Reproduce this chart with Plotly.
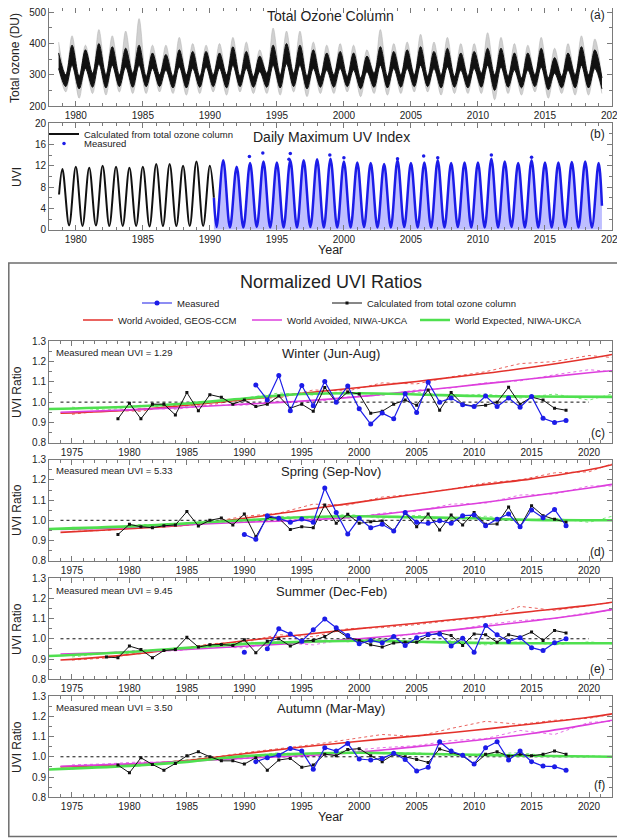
import plotly.graph_objects as go

FONT = "Liberation Sans, Arial, sans-serif"
# the page adds an 8 px body margin, so the figure is 8 px smaller and every
# reference pixel position is shifted by that offset
PAGE_OFF = 8
W, H = 625 - PAGE_OFF, 838 - PAGE_OFF

# ---------------- panel (a): total ozone column, seasonal extremes
oz_peak_years = list(range(1978, 2019))        # spring maximum (~Sep/Oct)
oz_peak_max = [405, 425, 395, 445, 425, 440, 480, 395, 395, 420, 400, 395, 400, 420, 405, 380, 450, 440, 440, 405, 395,
               400, 395, 380, 445, 400, 405, 430, 405, 420, 400, 400, 435, 420, 400, 395, 420, 385, 400, 425, 415]
oz_peak_core = [370, 395, 380, 400, 390, 385, 395, 370, 365, 380, 375, 375, 370, 390, 375, 360, 395, 400, 395, 380, 370,
                375, 370, 360, 390, 375, 380, 390, 375, 385, 370, 375, 385, 385, 370, 370, 385, 355, 370, 390, 380]
oz_peak_low = [320, 330, 320, 335, 330, 325, 330, 320, 315, 325, 320, 325, 320, 330, 320, 310, 330, 335, 330, 320, 315,
               320, 315, 310, 330, 320, 320, 330, 320, 325, 315, 320, 330, 325, 315, 315, 325, 305, 315, 330, 320]
oz_trough_years = list(range(1979, 2020))      # autumn minimum (~Mar/Apr)
oz_trough_top = [300, 295, 305, 300, 300, 305, 295, 300, 295, 300, 295, 300, 300, 295, 295, 305, 300, 305, 295, 295, 300,
                 295, 290, 305, 295, 300, 300, 295, 300, 295, 295, 305, 300, 295, 290, 300, 290, 295, 300, 300, 290]
oz_trough_core = [262, 255, 260, 258, 262, 260, 262, 262, 258, 258, 260, 262, 258, 262, 260, 260, 258, 262, 255, 260, 260,
                  262, 255, 260, 258, 260, 262, 262, 258, 260, 258, 260, 250, 260, 258, 262, 252, 258, 258, 258, 255]
oz_trough_min = [245, 225, 240, 235, 245, 240, 240, 245, 240, 235, 240, 245, 235, 245, 240, 240, 235, 245, 230, 240, 240,
                 245, 230, 240, 235, 240, 245, 245, 235, 240, 240, 240, 220, 240, 235, 245, 225, 240, 235, 235, 240]
OZ_PEAK_PHASE, OZ_TROUGH_PHASE = 0.72, 0.25

# ---------------- panel (b): daily maximum UVI, seasonal extremes
uvi_calc_peak_years = list(range(1979, 1991))   # January maximum
uvi_calc_peak = [11.4, 11.8, 11.6, 12.0, 11.8, 11.6, 11.8, 12.3, 12.3, 12.0, 12.8, 12.0]
uvi_calc_trough_years = list(range(1979, 1990))  # June minimum
uvi_calc_trough = [0.8, 0.7, 0.8, 0.7, 0.7, 0.7, 0.6, 0.7, 0.7, 0.7, 0.7]
uvi_calc_ends_t = [1978.75, 1990.3]
uvi_calc_ends_v = [6.6, 6.0]
uvi_meas_peak_years = list(range(1991, 2020))
uvi_meas_peak = [13.0, 11.8, 12.5, 12.8, 12.6, 13.0, 13.0, 13.2, 13.3, 12.8, 12.6, 12.5, 12.3, 13.0, 12.5,
                 12.6, 13.0, 12.5, 12.6, 12.6, 13.3, 12.8, 12.5, 13.0, 12.6, 12.6, 12.7, 12.8, 12.5]
uvi_meas_trough_years = list(range(1990, 2019))
uvi_meas_trough = [0.5, 0.4, 0.4, 0.5, 0.4, 0.4, 0.4, 0.5, 0.4, 0.4, 0.4, 0.5, 0.4, 0.4, 0.5,
                   0.4, 0.4, 0.4, 0.5, 0.4, 0.4, 0.4, 0.5, 0.4, 0.4, 0.4, 0.5, 0.4, 0.4]
uvi_meas_ends_t = [1990.3, 2019.25]
uvi_meas_ends_v = [6.0, 4.5]
uvi_spike_t = [1992.95, 1993.95, 1995.9, 1996.0, 1998.95, 2000.0, 2004.0, 2005.95, 2007.0, 2011.0, 2014.0]
uvi_spike_v = [13.7, 14.4, 13.2, 14.3, 14.0, 13.5, 13.3, 13.8, 13.5, 14.0, 13.6]

# ---------------- panels (c)-(f): normalized seasonal UVI ratios
seasons = ["Winter (Jun-Aug)", "Spring (Sep-Nov)", "Summer (Dec-Feb)", "Autumn (Mar-May)"]
mean_uvi = ["1.29", "5.33", "9.45", "3.50"]
panel_tags = ["(c)", "(d)", "(e)", "(f)"]

calc_years_winter = list(range(1979, 2019))
calc_winter = [0.918, 0.995, 0.918, 0.99, 0.99, 0.937, 1.047, 0.957, 1.037, 1.024, 0.99, 1.011, 0.978, 0.99, 1.03,
               0.97, 0.99, 0.955, 1.072, 1.0, 1.05, 1.04, 0.945, 0.955, 0.99, 1.01, 0.985, 1.06, 0.96, 1.048,
               0.99, 0.98, 0.985, 1.0, 1.073, 0.99, 1.025, 1.01, 0.97, 0.96]
meas_years_winter = list(range(1991, 2019))
meas_winter = [1.085, 1.011, 1.131, 0.957, 1.082, 0.982, 1.102, 1.0, 1.08, 0.967, 0.892, 0.946, 0.918, 1.041,
               0.949, 1.098, 1.0, 1.02, 0.987, 0.978, 1.03, 0.978, 1.02, 0.975, 1.028, 0.92, 0.9, 0.91]

calc_years_spring = list(range(1979, 2019))
calc_spring = [0.93, 0.98, 0.968, 0.963, 0.973, 0.977, 1.043, 0.972, 1.0, 1.011, 0.977, 1.031, 0.919, 1.015, 1.01,
               0.955, 0.968, 0.963, 1.076, 0.985, 1.03, 0.985, 0.993, 0.996, 0.949, 1.035, 0.968, 1.031, 0.952,
               1.026, 0.977, 1.039, 0.98, 0.982, 1.066, 0.968, 1.072, 1.023, 1.005, 0.99]
meas_years_spring = list(range(1990, 2019))
meas_spring = [0.93, 0.906, 1.023, 1.01, 0.99, 1.006, 0.99, 1.16, 1.039, 0.932, 1.01, 0.963, 0.98, 0.947, 1.038,
               0.99, 0.985, 0.998, 0.985, 1.023, 1.026, 0.973, 1.005, 1.031, 0.968, 1.051, 1.013, 1.054, 0.973]

calc_years_summer = list(range(1978, 2019))
calc_summer = [0.91, 0.906, 0.964, 0.947, 0.906, 0.942, 0.947, 1.008, 0.959, 0.97, 0.972, 0.967, 0.995, 0.931,
               0.988, 1.0, 0.964, 0.988, 0.992, 1.011, 1.044, 1.008, 0.992, 0.97, 0.959, 0.979, 0.983, 0.983,
               1.016, 1.029, 1.016, 0.967, 1.024, 1.02, 0.983, 1.02, 1.008, 1.033, 0.992, 1.041, 1.029]
meas_years_summer = list(range(1990, 2019))
meas_summer = [0.934, None, 0.951, 1.049, 1.024, 0.988, 1.044, 1.098, 1.054, 1.016, 0.975, 0.992, 0.98, 1.011,
               0.967, 1.005, 1.021, 1.024, 0.964, 1.003, 0.934, 1.066, 1.02, 0.987, 1.005, 0.956, 0.942, 0.98, 1.0]

calc_years_autumn = list(range(1979, 2019))
calc_autumn = [0.959, 0.921, 0.995, 0.962, 0.934, 0.967, 1.005, 1.025, 1.0, 0.98, 0.98, 0.964, 0.995, 0.934,
               0.984, 0.992, 0.948, 0.959, 1.013, 1.005, 1.036, 1.04, 1.005, 0.976, 1.012, 1.0, 0.987, 0.972,
               1.038, 1.022, 1.005, 0.962, 1.012, 1.025, 1.003, 1.012, 1.005, 1.012, 1.028, 1.013]
meas_years_autumn = list(range(1991, 2019))
meas_autumn = [0.976, 0.995, 1.008, 1.041, 1.028, 0.938, 1.045, 1.028, 1.066, 0.989, 0.984, 0.992, 1.017, 0.987,
               0.93, 0.948, 1.074, 1.028, 1.008, 0.964, 1.045, 1.074, 0.984, 1.028, 0.976, 0.954, 0.951, 0.934]

# model projections: smoothed (solid) and annual (dotted)
mdl_years = [1974, 1980, 1985, 1990, 1995, 2000, 2005, 2010, 2015, 2020, 2022]
grn_years = [1973, 1980, 1985, 1990, 1995, 2000, 2005, 2010, 2015, 2022]
dot_years = [1975, 1978, 1981, 1984, 1987, 1990, 1993, 1996, 1999, 2002, 2005, 2008, 2011, 2014, 2017, 2020, 2022]

geos_winter = [0.945, 0.96, 0.985, 1.012, 1.043, 1.072, 1.102, 1.135, 1.172, 1.215, 1.235]
niwa_av_winter = [0.95, 0.962, 0.975, 0.99, 1.005, 1.027, 1.055, 1.085, 1.115, 1.145, 1.155]
niwa_ex_winter = [0.966, 0.977, 0.993, 1.018, 1.04, 1.044, 1.038, 1.03, 1.028, 1.026]
geos_dot_winter = [0.94, 0.96, 0.955, 0.985, 0.985, 1.02, 1.02, 1.06, 1.055, 1.095, 1.09, 1.125, 1.15, 1.19, 1.2, 1.23, 1.22]
niwa_av_dot_winter = [0.95, 0.955, 0.97, 0.965, 0.985, 0.985, 1.005, 1.0, 1.025, 1.035, 1.06, 1.07, 1.095, 1.105, 1.135, 1.16, 1.15]
niwa_ex_dot_winter = [0.975, 0.96, 0.985, 0.97, 1.0, 1.02, 1.045, 1.035, 1.05, 1.035, 1.05, 1.03, 1.04, 1.02, 1.04, 1.01, 1.04]

geos_spring = [0.94, 0.958, 0.977, 1.01, 1.05, 1.09, 1.13, 1.17, 1.205, 1.25, 1.275]
niwa_av_spring = [0.955, 0.965, 0.978, 0.99, 1.0, 1.018, 1.05, 1.082, 1.12, 1.16, 1.178]
niwa_ex_spring = [0.957, 0.97, 0.985, 1.0, 1.015, 1.02, 1.015, 1.01, 1.002, 1.0]
geos_dot_spring = [0.945, 0.95, 0.965, 0.97, 0.99, 1.02, 1.035, 1.08, 1.075, 1.115, 1.13, 1.155, 1.185, 1.2, 1.235, 1.24, 1.28]
niwa_av_dot_spring = [0.955, 0.96, 0.975, 0.97, 0.985, 0.995, 0.995, 1.01, 1.01, 1.035, 1.045, 1.08, 1.085, 1.125, 1.13, 1.17, 1.17]
niwa_ex_dot_spring = [0.965, 0.96, 0.98, 0.975, 1.0, 0.99, 1.02, 1.01, 1.03, 1.01, 1.025, 1.005, 1.02, 1.0, 1.01, 0.99, 1.02]

geos_summer = [0.895, 0.922, 0.955, 0.99, 1.02, 1.05, 1.077, 1.105, 1.135, 1.165, 1.18]
niwa_av_summer = [0.925, 0.935, 0.947, 0.963, 0.98, 1.0, 1.025, 1.055, 1.088, 1.125, 1.145]
niwa_ex_summer = [0.915, 0.935, 0.955, 0.975, 0.985, 0.99, 0.985, 0.98, 0.978, 0.978]
geos_dot_summer = [0.895, 0.905, 0.93, 0.945, 0.975, 0.985, 1.02, 1.01, 1.05, 1.055, 1.07, 1.09, 1.105, 1.16, 1.14, 1.165, 1.18]
niwa_av_dot_summer = [0.925, 0.93, 0.945, 0.94, 0.96, 0.955, 0.98, 0.97, 1.0, 0.995, 1.03, 1.04, 1.07, 1.09, 1.1, 1.13, 1.14]
niwa_ex_dot_summer = [0.91, 0.93, 0.925, 0.955, 0.96, 0.985, 0.975, 0.995, 0.985, 1.0, 0.98, 0.99, 0.97, 0.985, 0.97, 0.985, 0.975]

geos_autumn = [0.95, 0.962, 0.982, 1.015, 1.048, 1.077, 1.103, 1.131, 1.162, 1.195, 1.212]
niwa_av_autumn = [0.953, 0.965, 0.978, 0.993, 1.005, 1.023, 1.05, 1.08, 1.115, 1.16, 1.18]
niwa_ex_autumn = [0.937, 0.955, 0.975, 1.003, 1.015, 1.02, 1.015, 1.01, 1.005, 1.0]
geos_dot_autumn = [0.95, 0.955, 0.97, 0.975, 0.995, 1.02, 1.04, 1.06, 1.085, 1.11, 1.1, 1.14, 1.175, 1.16, 1.18, 1.19, 1.21]
niwa_av_dot_autumn = [0.96, 0.965, 0.975, 0.97, 0.985, 0.99, 1.01, 1.0, 1.03, 1.045, 1.055, 1.08, 1.09, 1.13, 1.11, 1.17, 1.175]
niwa_ex_dot_autumn = [0.94, 0.96, 0.955, 0.98, 0.995, 1.0, 1.02, 1.01, 1.03, 1.015, 1.02, 1.005, 1.015, 1.02, 1.0, 1.005, 1.0]

ref_years = [1974, 2020]

RED, MAG, GRN, BLUE = "#e3312b", "#dd3fdd", "#4fe04f", "#1c1ce8"


def seasonal(years_a, vals_a, phase_a, years_b, vals_b, phase_b, extra_t=(), extra_v=()):
    pts = [(y + phase_a, v) for y, v in zip(years_a, vals_a)]
    pts += [(y + phase_b, v) for y, v in zip(years_b, vals_b)]
    pts += list(zip(extra_t, extra_v))
    pts.sort()
    return [p[0] for p in pts], [p[1] for p in pts]


def px_x(x):
    # reference pixel column -> paper fraction
    return (x - PAGE_OFF) / W


def px_y(y):
    # reference pixel row -> paper fraction
    return 1 - (y - PAGE_OFF) / H


def dom(top, bottom):
    return [px_y(bottom), px_y(top)]


fig = go.Figure()

# ---- (a)
t_lo, v_lo = seasonal(oz_peak_years, oz_peak_low, OZ_PEAK_PHASE, oz_trough_years, oz_trough_min, OZ_TROUGH_PHASE)
t_hi, v_hi = seasonal(oz_peak_years, oz_peak_max, OZ_PEAK_PHASE, oz_trough_years, oz_trough_top, OZ_TROUGH_PHASE)
fig.add_trace(go.Scatter(x=t_lo, y=v_lo, mode="lines", line=dict(width=0.5, color="#b0b0b0", shape="spline"),
                         xaxis="x", yaxis="y", showlegend=False, hoverinfo="skip"))
fig.add_trace(go.Scatter(x=t_hi, y=v_hi, mode="lines", line=dict(width=0.5, color="#b0b0b0", shape="spline"),
                         fill="tonexty", fillcolor="rgba(120,120,120,0.35)", xaxis="x", yaxis="y",
                         showlegend=False, hoverinfo="skip"))
t_clo, v_clo = seasonal(oz_peak_years, oz_peak_low, OZ_PEAK_PHASE, oz_trough_years, oz_trough_core, OZ_TROUGH_PHASE)
t_chi, v_chi = seasonal(oz_peak_years, oz_peak_core, OZ_PEAK_PHASE, oz_trough_years, oz_trough_top, OZ_TROUGH_PHASE)
fig.add_trace(go.Scatter(x=t_clo, y=v_clo, mode="lines", line=dict(width=1, color="#111", shape="spline"),
                         xaxis="x", yaxis="y", showlegend=False, hoverinfo="skip"))
fig.add_trace(go.Scatter(x=t_chi, y=v_chi, mode="lines", line=dict(width=1, color="#111", shape="spline"),
                         fill="tonexty", fillcolor="#111", xaxis="x", yaxis="y", showlegend=False, hoverinfo="skip"))

# ---- (b)
t_m, v_m = seasonal(uvi_meas_peak_years, uvi_meas_peak, 0.0, uvi_meas_trough_years, uvi_meas_trough, 0.5,
                    uvi_meas_ends_t, uvi_meas_ends_v)
fig.add_trace(go.Scatter(x=t_m, y=v_m, mode="lines", line=dict(width=2.5, color=BLUE, shape="spline"),
                         fill="tozeroy", fillcolor="rgba(40,40,255,0.3)", xaxis="x2", yaxis="y2",
                         showlegend=False, hoverinfo="skip"))
fig.add_trace(go.Scatter(x=uvi_spike_t, y=uvi_spike_v, mode="markers", name="Measured",
                         marker=dict(size=3.5, color=BLUE), xaxis="x2", yaxis="y2", legend="legend2"))
t_c, v_c = seasonal(uvi_calc_peak_years, uvi_calc_peak, 0.0, uvi_calc_trough_years, uvi_calc_trough, 0.5,
                    uvi_calc_ends_t, uvi_calc_ends_v)
fig.add_trace(go.Scatter(x=t_c, y=v_c, mode="lines", name="Calculated from total ozone column",
                         line=dict(width=2, color="#111", shape="spline"), xaxis="x2", yaxis="y2", legend="legend"))

# ---- (c)-(f)
panels = [
    (calc_years_winter, calc_winter, meas_years_winter, meas_winter,
     geos_winter, niwa_av_winter, niwa_ex_winter, geos_dot_winter, niwa_av_dot_winter, niwa_ex_dot_winter),
    (calc_years_spring, calc_spring, meas_years_spring, meas_spring,
     geos_spring, niwa_av_spring, niwa_ex_spring, geos_dot_spring, niwa_av_dot_spring, niwa_ex_dot_spring),
    (calc_years_summer, calc_summer, meas_years_summer, meas_summer,
     geos_summer, niwa_av_summer, niwa_ex_summer, geos_dot_summer, niwa_av_dot_summer, niwa_ex_dot_summer),
    (calc_years_autumn, calc_autumn, meas_years_autumn, meas_autumn,
     geos_autumn, niwa_av_autumn, niwa_ex_autumn, geos_dot_autumn, niwa_av_dot_autumn, niwa_ex_dot_autumn),
]

for i, (cy, cv, my, mv, geos, nav, nex, geos_d, nav_d, nex_d) in enumerate(panels):
    xa, ya = "x%d" % (i + 3), "y%d" % (i + 3)
    first = i == 0
    common = dict(xaxis=xa, yaxis=ya, hoverinfo="skip")
    # dotted annual model values
    for yrs, vals, col in [(dot_years, geos_d, RED), (dot_years, nav_d, MAG), (dot_years, nex_d, GRN)]:
        fig.add_trace(go.Scatter(x=yrs, y=vals, mode="lines", line=dict(width=1, color=col, dash="dot"),
                                 opacity=0.75, showlegend=False, **common))
    fig.add_trace(go.Scatter(x=ref_years, y=[1, 1], mode="lines", line=dict(width=1, color="#111", dash="dot"),
                             showlegend=False, **common))
    fig.add_trace(go.Scatter(x=mdl_years, y=geos, mode="lines", name="World Avoided, GEOS-CCM",
                             line=dict(width=1.6, color=RED, shape="spline"), showlegend=first, legend="legend5",
                             **common))
    fig.add_trace(go.Scatter(x=mdl_years, y=nav, mode="lines", name="World Avoided, NIWA-UKCA",
                             line=dict(width=1.6, color=MAG, shape="spline"), showlegend=first, legend="legend6",
                             **common))
    fig.add_trace(go.Scatter(x=grn_years, y=nex, mode="lines", name="World Expected, NIWA-UKCA",
                             line=dict(width=2.6, color=GRN, shape="spline"), showlegend=first, legend="legend7",
                             **common))
    fig.add_trace(go.Scatter(x=cy, y=cv, mode="lines+markers", name="Calculated from total ozone column",
                             line=dict(width=1, color="#111"), marker=dict(size=3, symbol="square", color="#111"),
                             showlegend=first, legend="legend4", **common))
    fig.add_trace(go.Scatter(x=my, y=mv, mode="lines+markers", name="Measured",
                             line=dict(width=1.2, color=BLUE), marker=dict(size=5, color=BLUE),
                             showlegend=first, legend="legend3", **common))

# ---------------- layout
axis_style = dict(showline=True, linecolor="#7a7a7a", linewidth=1, mirror="ticks", ticks="inside", ticklen=5,
                  tickcolor="#7a7a7a", showgrid=False, zeroline=False, ticklabeloverflow="allow",
                  tickfont=dict(family=FONT, size=10, color="#222"),
                  minor=dict(ticks="inside", ticklen=3, tickcolor="#7a7a7a", showgrid=False))
XD = [px_x(49), px_x(612)]
y_domains = [dom(8, 106), dom(123, 229.7), dom(341.3, 442.7), dom(459.7, 560.7), dom(578, 679.3), dom(696, 797.3)]

layout = dict(width=W, height=H, margin=dict(l=0, r=0, t=0, b=0, autoexpand=False),
              paper_bgcolor="white", plot_bgcolor="white",
              font=dict(family=FONT, color="#222"), hovermode=False)
layout["xaxis"] = dict(axis_style, domain=XD, range=[1978, 2020], tick0=1980, dtick=5, minor_dtick=1, anchor="y")
layout["yaxis"] = dict(axis_style, domain=y_domains[0], range=[200, 514], tick0=200, dtick=100, minor_dtick=50,
                       anchor="x")
layout["xaxis2"] = dict(axis_style, domain=XD, range=[1978, 2020], tick0=1980, dtick=5, minor_dtick=1, anchor="y2")
layout["yaxis2"] = dict(axis_style, domain=y_domains[1], range=[0, 20], tick0=0, dtick=4, minor_dtick=2,
                        anchor="x2")
for i in range(4):
    n = i + 3
    layout["xaxis%d" % n] = dict(axis_style, domain=XD, range=[1973, 2022], tick0=1975, dtick=5, minor_dtick=1,
                                 anchor="y%d" % n)
    layout["yaxis%d" % n] = dict(axis_style, domain=y_domains[n - 1], range=[0.8, 1.3], tick0=0.8, dtick=0.1,
                                 minor_dtick=0.05, tickformat=".1f", anchor="x%d" % n)


def item_legend(xp, yp):
    return dict(x=px_x(xp), y=px_y(yp), xanchor="left", yanchor="middle", bgcolor="rgba(0,0,0,0)", borderwidth=0,
                font=dict(family=FONT, size=9.5, color="#222"), itemclick=False, itemdoubleclick=False)


layout["legend"] = item_legend(44, 134)
layout["legend2"] = item_legend(44, 143.5)
layout["legend3"] = item_legend(137, 303)
layout["legend4"] = item_legend(327, 303)
layout["legend5"] = item_legend(78, 320)
layout["legend6"] = item_legend(247, 320)
layout["legend7"] = item_legend(415, 320)

anns = []


def ann(text, xp, yp, size, xanchor="center", angle=0):
    anns.append(dict(text=text, x=px_x(xp), y=px_y(yp), xref="paper", yref="paper", showarrow=False,
                     xanchor=xanchor, yanchor="middle", textangle=angle,
                     font=dict(family=FONT, size=size, color="#222")))


ann("Total Ozone Column", 330, 16, 14)
ann("(a)", 607, 15, 12, "right")
ann("Daily Maximum UV Index", 331, 137, 14)
ann("(b)", 607, 134, 12, "right")
ann("Year", 330, 250, 12.5)
ann("Total ozone (DU)", 15, 58, 12, angle=-90)
ann("UVI", 17, 177, 12, angle=-90)
ann("Normalized UVI Ratios", 331, 282, 18)

title_y = [353, 471.5, 591, 708]
tag_y = [433, 551.5, 669, 785]
mid_y = [392, 510, 629, 747]
for i in range(4):
    ann(seasons[i], 331, title_y[i], 13)
    ann("Measured mean UVI = " + mean_uvi[i], 54, title_y[i] - 1, 9.5, "left")
    ann(panel_tags[i], 607, tag_y[i], 12, "right")
    ann("UVI Ratio", 17, mid_y[i], 12, angle=-90)
ann("Year", 330, 817, 12.5)

layout["annotations"] = anns
layout["shapes"] = [dict(type="rect", xref="paper", yref="paper", x0=px_x(8.8), x1=px_x(623), y0=px_y(836.5),
                         y1=px_y(263), line=dict(color="#6e6e6e", width=1.5))]

fig.update_layout(layout)
fig.write_html("out.html")
